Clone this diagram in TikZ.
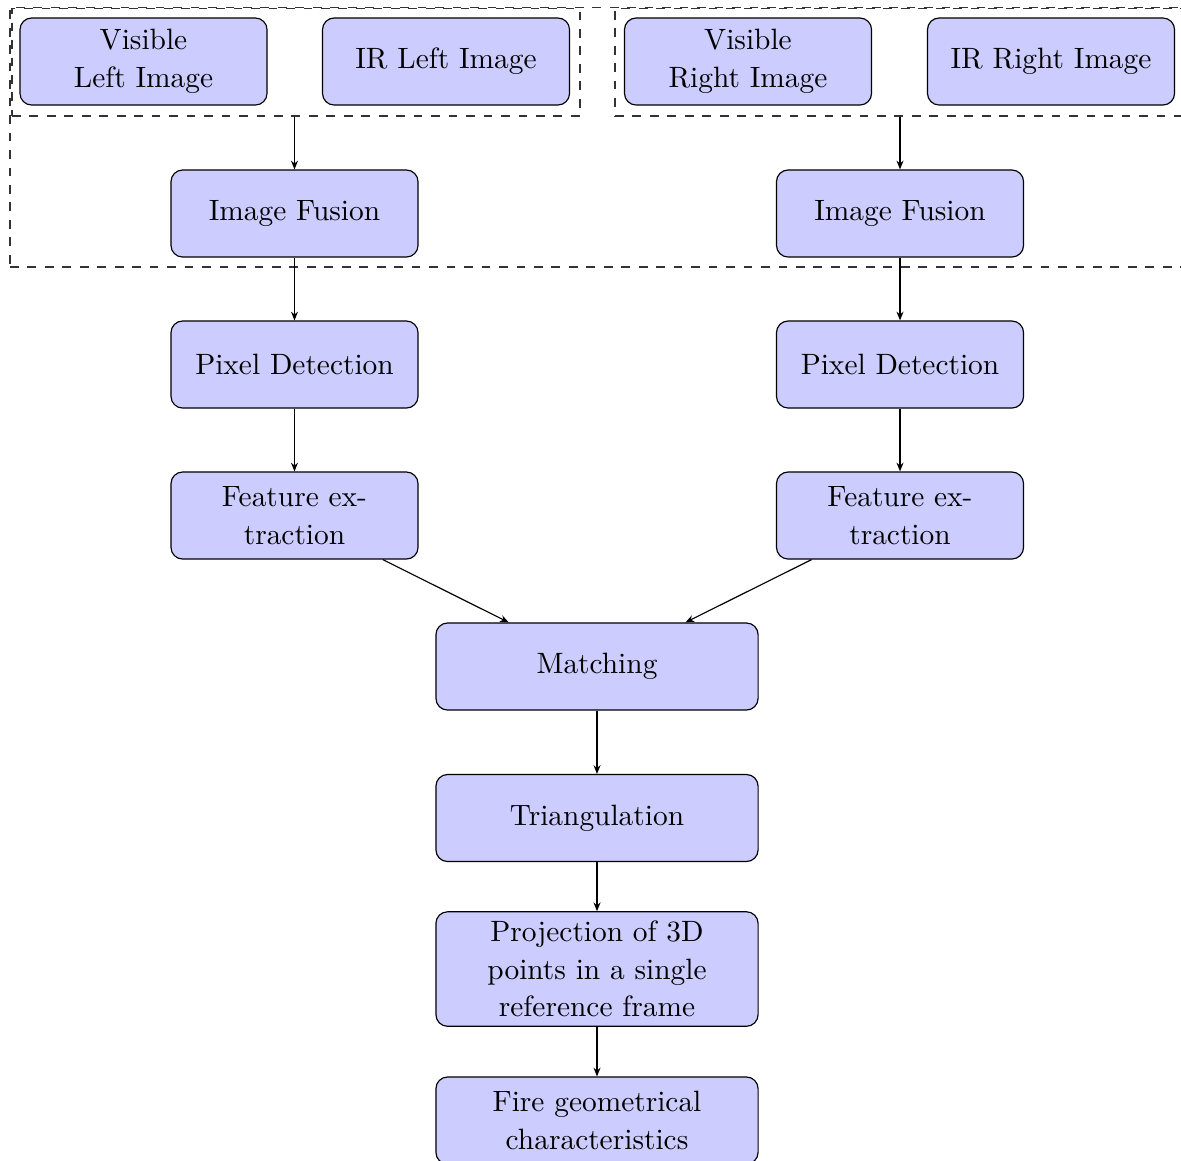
\documentclass[tikz,border=0pt]{standalone}
\usetikzlibrary{arrows.meta,fit,positioning}
\tikzset{
  procbox/.style={draw=black, fill=blue!20, rounded corners=4pt, align=center,
    text width=78.2pt, minimum height=29.9pt, inner xsep=3.33pt, inner ysep=3.1pt,
    font=\fontsize{10.1pt}{12.95pt}\selectfont, line width=0.4pt},
  widebox/.style={procbox, text width=104pt},
  dashbox/.style={draw=black!80, dashed, inner sep=0pt, line width=0.4pt},
  arr/.style={-{Stealth[length=3pt,width=2.4pt]}, line width=0.4pt}
}
\begin{document}
\begin{tikzpicture}[x=0.3435pt, y=-0.3435pt]
\useasboundingbox (0,0) rectangle (1181,1160);
\clip (0,0) rectangle (1181,1160);
% process boxes
\node[procbox] (visL) at (143.5,61.5) {Visible\\Left Image};
\node[procbox] (irL)  at (446,61.5) {IR Left Image};
\node[procbox] (visR) at (748,61.5) {Visible\\Right Image};
\node[procbox] (irR)  at (1051,61.5) {IR Right Image};
\node[procbox] (fusL) at (294.5,213.5) {Image Fusion};
\node[procbox] (fusR) at (900,213.5) {Image Fusion};
\node[procbox] (pixL) at (294.5,364.5) {Pixel Detection};
\node[procbox] (pixR) at (900,364.5) {Pixel Detection};
\node[procbox] (featL) at (294.5,515.5) {Feature ex-\\traction};
\node[procbox] (featR) at (900,515.5) {Feature ex-\\traction};
\node[widebox] (match) at (597,666.5) {Matching};
\node[widebox] (tri) at (597,818) {Triangulation};
\node[widebox] (proj) at (597,969) {Projection of 3D\\points in a single\\reference frame};
\node[widebox] (fire) at (597,1120.5) {Fire geometrical\\characteristics};
% dashed groups
\node[dashbox, fit={(10,7.5)(1250,267)}] (outer) {};
\node[dashbox, fit={(12,8.5)(580,116)}] (grpL) {};
\node[dashbox, fit={(615,8.5)(1250,116)}] (grpR) {};
% connectors
\draw[arr] (grpL.south -| fusL.north) -- (fusL.north);
\draw[arr] (grpR.south -| fusR.north) -- (fusR.north);
\draw[arr] (fusL) -- (pixL);
\draw[arr] (fusR) -- (pixR);
\draw[arr] (pixL) -- (featL);
\draw[arr] (pixR) -- (featR);
\draw[arr] (featL) -- (match);
\draw[arr] (featR) -- (match);
\draw[arr] (match) -- (tri);
\draw[arr] (tri) -- (proj);
\draw[arr] (proj) -- (fire);
\end{tikzpicture}
\end{document}
